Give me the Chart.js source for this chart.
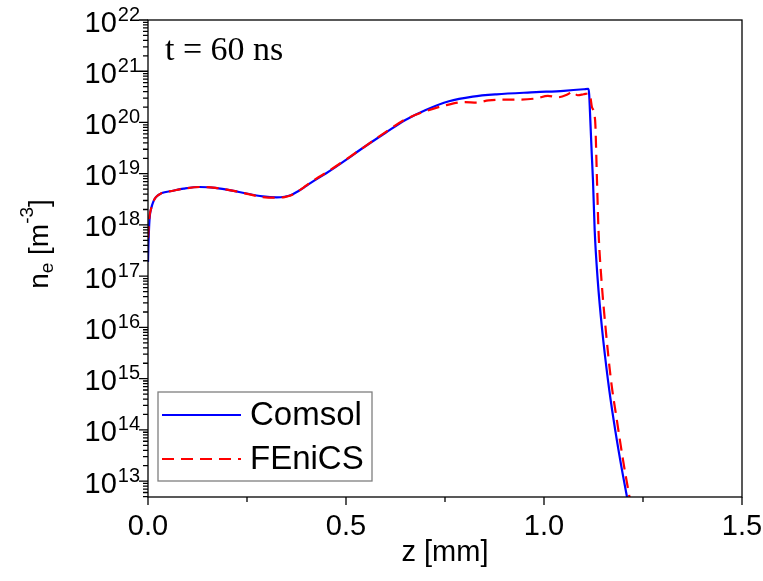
<!DOCTYPE html>
<html>
<head>
<meta charset="utf-8">
<script src="https://cdn.jsdelivr.net/npm/chart.js@4/dist/chart.umd.min.js"></script>
<style>
  html, body { margin: 0; padding: 0; background: #fff; }
  canvas { display: block; }
</style>
</head>
<body>
<canvas id="chart" width="763" height="581"></canvas>
<script>
// Electron density n_e along z at t = 60 ns, Comsol vs FEniCS solution

const comsolZ = [0, 0.001, 0.002, 0.003, 0.005, 0.008, 0.013, 0.02, 0.035, 0.06, 0.09, 0.13, 0.17, 0.23,
  0.29, 0.325, 0.345, 0.36, 0.38, 0.40, 0.425, 0.45, 0.50, 0.535, 0.60, 0.65, 0.70, 0.76, 0.82, 0.88,
  0.98, 1.05, 1.10, 1.112, 1.114, 1.117, 1.1205, 1.1237, 1.128, 1.1357, 1.1469, 1.1616, 1.1759, 1.1924,
  1.2096, 1.2212];
const comsolNe = [1.9e17, 4.0e17, 6.5e17, 1.0e18, 1.6e18, 2.1e18, 2.8e18, 3.5e18, 4.2e18, 4.6e18, 5.1e18,
  5.5e18, 5.3e18, 4.4e18, 3.6e18, 3.45e18, 3.55e18, 3.8e18, 4.6e18, 5.8e18, 7.8e18, 1.02e19, 1.86e19,
  2.9e19, 6.3e19, 1.12e20, 1.74e20, 2.6e20, 3.2e20, 3.55e20, 3.9e20, 4.15e20, 4.45e20, 4.55e20, 3.6e20,
  1.1e20, 2.5e19, 7.4e18, 7.9e17, 8.3e16, 8.9e15, 9.3e14, 1.55e14, 2.6e13, 4.9e12, 1.7e12];

const fenicsZ = [0, 0.001, 0.002, 0.004, 0.008, 0.013, 0.02, 0.035, 0.06, 0.09, 0.13, 0.17, 0.23, 0.29,
  0.325, 0.345, 0.36, 0.38, 0.40, 0.425, 0.45, 0.50, 0.55, 0.60, 0.65, 0.70, 0.75, 0.80, 0.83, 0.86, 0.90,
  0.94, 0.98, 1.01, 1.035, 1.06, 1.072, 1.085, 1.10, 1.113, 1.117, 1.121, 1.129, 1.1338, 1.1376, 1.1452,
  1.156, 1.1692, 1.184, 1.1995, 1.2159, 1.227];
const fenicsNe = [5.5e17, 7.5e17, 1.0e18, 1.5e18, 2.1e18, 2.8e18, 3.5e18, 4.2e18, 4.6e18, 5.1e18, 5.5e18,
  5.3e18, 4.4e18, 3.5e18, 3.4e18, 3.5e18, 3.75e18, 4.6e18, 5.9e18, 8.0e18, 1.05e19, 1.9e19, 3.5e19,
  6.5e19, 1.15e20, 1.65e20, 2.15e20, 2.5e20, 2.45e20, 2.7e20, 2.8e20, 2.8e20, 2.95e20, 3.3e20, 3.1e20,
  3.55e20, 4.0e20, 3.4e20, 3.55e20, 3.7e20, 3.2e20, 2.0e20, 1.12e20, 7.4e18, 7.9e17, 8.3e16, 8.9e15,
  9.3e14, 1.55e14, 2.6e13, 4.9e12, 1.7e12];

const seriesNames = ['Comsol', 'FEniCS'];
const xTickValues = [0, 0.5, 1.0, 1.5];
const xTickLabels = ['0.0', '0.5', '1.0', '1.5'];
const yDecades = [13, 14, 15, 16, 17, 18, 19, 20, 21, 22];
const xTitle = 'z [mm]';
const timeLabel = 't = 60 ns';

const SANS = '"Liberation Sans", Arial, sans-serif';
const SERIF = '"Liberation Serif", "Times New Roman", serif';

function toPoints(zs, ns) {
  return zs.map((z, i) => ({ x: z, y: ns[i] }));
}

// Frame, tick marks, tick labels, axis titles, legend box and time stamp
const decorations = {
  id: 'decorations',
  beforeDraw(chart) {
    const ctx = chart.ctx;
    ctx.save();
    ctx.fillStyle = '#fff';
    ctx.fillRect(0, 0, chart.width, chart.height);
    ctx.restore();
  },
  afterDatasetsDraw(chart) {
    const { ctx, chartArea: a } = chart;
    const xs = chart.scales.x, ys = chart.scales.y;
    ctx.save();
    ctx.strokeStyle = '#000';
    ctx.lineWidth = 1.3;
    ctx.strokeRect(a.left, a.top, a.right - a.left, a.bottom - a.top);

    // x ticks (outward)
    ctx.beginPath();
    xTickValues.forEach((v, i) => {
      const px = xs.getPixelForValue(v);
      ctx.moveTo(px, a.bottom); ctx.lineTo(px, a.bottom + 8);
      if (i < xTickValues.length - 1) {
        const pm = xs.getPixelForValue((v + xTickValues[i + 1]) / 2);
        ctx.moveTo(pm, a.bottom); ctx.lineTo(pm, a.bottom + 5);
      }
    });
    // y ticks (outward), decades and log minors
    for (let d = yDecades[0] - 1; d <= yDecades[yDecades.length - 1]; d++) {
      for (let m = 1; m <= 9; m++) {
        const v = m * Math.pow(10, d);
        if (v < ys.min * 0.999 || v > ys.max * 1.001) continue;
        const py = ys.getPixelForValue(v);
        ctx.moveTo(a.left, py); ctx.lineTo(a.left - (m === 1 ? 9 : 5), py);
      }
    }
    ctx.stroke();

    // x tick labels
    ctx.fillStyle = '#000';
    ctx.font = '29px ' + SANS;
    ctx.textAlign = 'center';
    ctx.textBaseline = 'alphabetic';
    xTickValues.forEach((v, i) => {
      ctx.fillText(xTickLabels[i], xs.getPixelForValue(v), 535);
    });

    // y tick labels: 10 with raised exponent
    ctx.textAlign = 'right';
    yDecades.forEach(d => {
      const py = ys.getPixelForValue(Math.pow(10, d));
      const exp = String(d);
      ctx.font = '20px ' + SANS;
      const ew = ctx.measureText(exp).width;
      ctx.fillText(exp, 140, py + 0.5);
      ctx.font = '29px ' + SANS;
      ctx.fillText('10', 140 - ew - 1, py + 11.5);
    });

    // x axis title
    ctx.textAlign = 'center';
    ctx.font = '29px ' + SANS;
    ctx.fillText(xTitle, 445, 561);

    // y axis title: n_e [m^-3], rotated
    ctx.save();
    ctx.translate(48, 244);
    ctx.rotate(-Math.PI / 2);
    ctx.textAlign = 'left';
    const parts = [
      { t: 'n', f: 28, dy: 0 },
      { t: 'e', f: 19, dy: 5 },
      { t: ' [m', f: 28, dy: 0 },
      { t: '-3', f: 19, dy: -15 },
      { t: ']', f: 28, dy: 0 }
    ];
    let total = 0;
    parts.forEach(p => { ctx.font = p.f + 'px ' + SANS; p.w = ctx.measureText(p.t).width; total += p.w; });
    let cx = -total / 2;
    parts.forEach(p => {
      ctx.font = p.f + 'px ' + SANS;
      ctx.fillText(p.t, cx, p.dy);
      cx += p.w;
    });
    ctx.restore();

    // time stamp
    ctx.textAlign = 'left';
    ctx.font = '34px ' + SERIF;
    ctx.fillText(timeLabel, 165, 60);

    // legend
    ctx.fillStyle = '#fff';
    ctx.fillRect(158, 392, 214, 89);
    ctx.strokeStyle = '#7f7f7f';
    ctx.lineWidth = 1.3;
    ctx.strokeRect(158, 392, 214, 89);
    const rows = [415, 459];
    chart.data.datasets.forEach((ds, i) => {
      ctx.strokeStyle = ds.borderColor;
      ctx.lineWidth = ds.borderWidth;
      ctx.setLineDash(ds.borderDash || []);
      ctx.beginPath();
      ctx.moveTo(162, rows[i]); ctx.lineTo(241, rows[i]);
      ctx.stroke();
      ctx.setLineDash([]);
      ctx.fillStyle = '#000';
      ctx.font = '33px ' + SANS;
      ctx.textBaseline = 'middle';
      ctx.fillText(ds.label, 250, rows[i] + 1);
    });
    ctx.restore();
  }
};

new Chart(document.getElementById('chart'), {
  type: 'line',
  data: {
    datasets: [
      {
        label: seriesNames[0],
        data: toPoints(comsolZ, comsolNe),
        borderColor: '#0000ff',
        borderWidth: 2.2,
        pointRadius: 0,
        cubicInterpolationMode: 'monotone',
        order: 1
      },
      {
        label: seriesNames[1],
        data: toPoints(fenicsZ, fenicsNe),
        borderColor: '#ff0000',
        borderWidth: 2.2,
        borderDash: [12, 7],
        pointRadius: 0,
        cubicInterpolationMode: 'monotone',
        order: 0
      }
    ]
  },
  options: {
    responsive: false,
    animation: false,
    devicePixelRatio: 1,
    layout: { padding: { top: 20, right: 21, left: 0, bottom: 0 } },
    plugins: { legend: { display: false }, tooltip: { enabled: false } },
    scales: {
      x: {
        type: 'linear',
        min: 0,
        max: 1.5,
        grid: { display: false },
        border: { display: false },
        ticks: { display: false },
        afterFit(scale) { scale.height = 84; }
      },
      y: {
        type: 'logarithmic',
        min: 4.9e12,
        max: 1e22,
        grid: { display: false },
        border: { display: false },
        ticks: { display: false },
        afterFit(scale) { scale.width = 148; }
      }
    }
  },
  plugins: [decorations]
});
</script>
</body>
</html>
